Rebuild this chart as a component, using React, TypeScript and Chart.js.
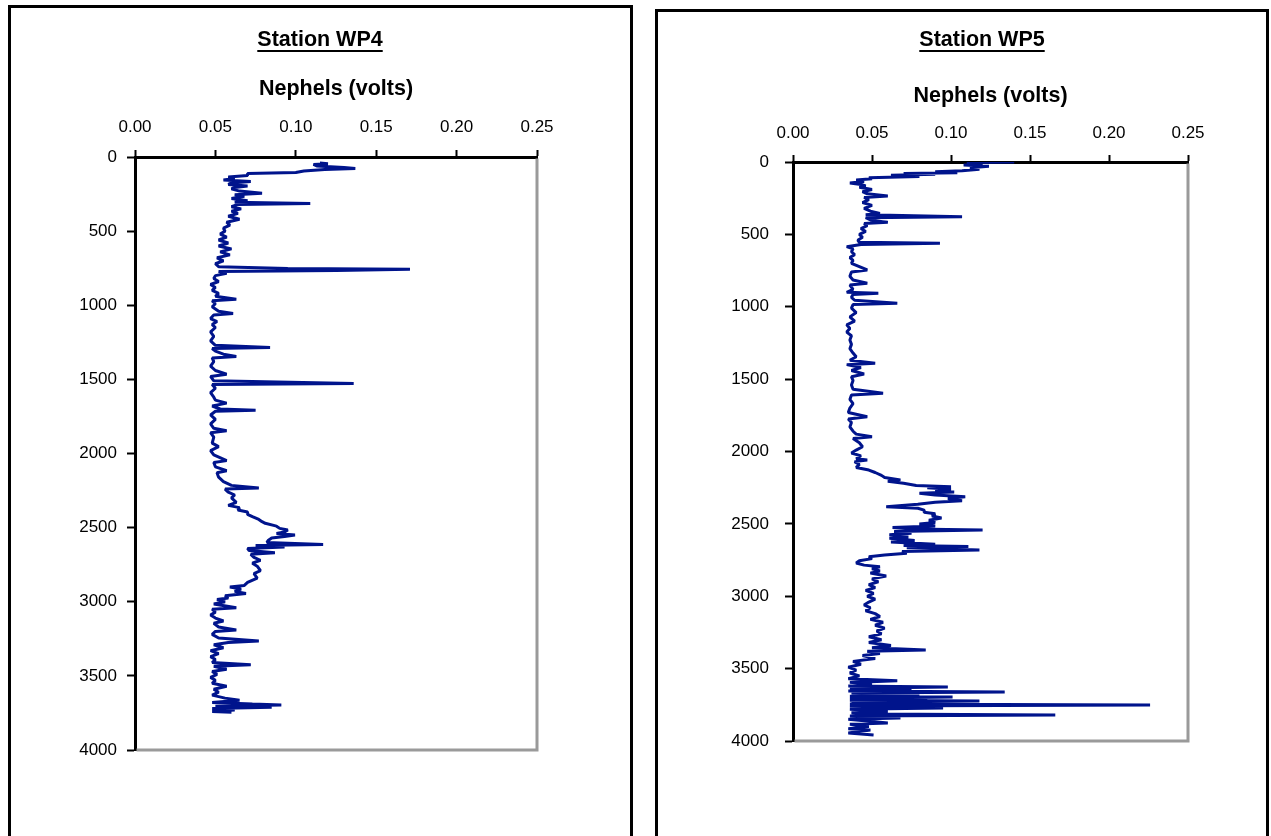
import React, { useEffect, useRef } from "react";
import { Chart, registerables } from "chart.js";

Chart.register(...registerables);

// ---------- data ----------
const wp4Depth = [
  40, 45, 50, 60, 70, 78, 85, 95, 105, 112, 125, 135, 145, 155, 165, 175, 185, 195, 205, 215,
  230, 245, 255, 265, 280, 295, 305, 313, 320, 335, 350, 365, 380, 400, 420, 440, 460, 480, 500, 520,
  540, 560, 580, 600, 620, 640, 660, 680, 700, 720, 740, 752, 758, 765, 772, 785, 800, 820, 840, 860,
  880, 900, 920, 940, 960, 970, 990, 1010, 1040, 1055, 1065, 1090, 1110, 1130, 1150, 1180, 1210, 1240, 1270, 1285,
  1292, 1310, 1330, 1345, 1355, 1380, 1410, 1440, 1465, 1480, 1510, 1528, 1535, 1560, 1590, 1620, 1640, 1660, 1680, 1700,
  1708, 1715, 1740, 1770, 1800, 1830, 1846, 1860, 1890, 1930, 1954, 1980, 2010, 2048, 2060, 2090, 2116, 2130, 2160, 2190,
  2215, 2232, 2240, 2260, 2280, 2300, 2330, 2350, 2365, 2381, 2395, 2410, 2426, 2445, 2460, 2471, 2490, 2505, 2516, 2530,
  2540, 2550, 2560, 2570, 2585, 2600, 2613, 2620, 2630, 2640, 2655, 2670, 2680, 2700, 2720, 2740, 2760, 2790, 2810, 2840,
  2870, 2890, 2900, 2915, 2930, 2945, 2960, 2975, 2985, 3000, 3015, 3040, 3050, 3070, 3090, 3110, 3130, 3145, 3170, 3190,
  3200, 3220, 3245, 3265, 3275, 3290, 3310, 3330, 3350, 3370, 3390, 3410, 3425, 3435, 3455, 3470, 3490, 3510, 3530, 3550,
  3570, 3590, 3610, 3630, 3650, 3665, 3680, 3690, 3696, 3705, 3712, 3720, 3730, 3740, 3745,
];
const wp4Nephels = [
  0.115, 0.12, 0.111, 0.113, 0.13, 0.137, 0.118, 0.105, 0.1, 0.07, 0.07, 0.058, 0.062, 0.055, 0.072, 0.06, 0.058, 0.07, 0.062, 0.06,
  0.065, 0.079, 0.062, 0.068, 0.06, 0.07, 0.062, 0.109, 0.064, 0.06, 0.066, 0.06, 0.064, 0.058, 0.065, 0.057, 0.059, 0.055, 0.056, 0.053,
  0.057, 0.052, 0.058, 0.052, 0.06, 0.053, 0.059, 0.051, 0.055, 0.05, 0.052, 0.095, 0.171, 0.125, 0.052, 0.057, 0.05, 0.049, 0.052, 0.047,
  0.05, 0.048, 0.052, 0.05, 0.063, 0.048, 0.05, 0.048, 0.052, 0.061, 0.049, 0.047, 0.051, 0.048, 0.05, 0.047, 0.049, 0.047, 0.05, 0.084,
  0.048, 0.05, 0.055, 0.063, 0.048, 0.049, 0.047, 0.05, 0.057, 0.047, 0.049, 0.136, 0.048, 0.05, 0.047, 0.049, 0.05, 0.057, 0.048, 0.053,
  0.075, 0.05, 0.047, 0.05, 0.047, 0.049, 0.057, 0.047, 0.049, 0.048, 0.052, 0.047, 0.049, 0.057, 0.049, 0.05, 0.057, 0.051, 0.052, 0.055,
  0.06, 0.077, 0.056, 0.058, 0.062, 0.06, 0.063, 0.058, 0.065, 0.064, 0.07, 0.07, 0.073, 0.077, 0.079, 0.081, 0.088, 0.09, 0.095, 0.093,
  0.088, 0.0995, 0.093, 0.085, 0.083, 0.082, 0.117, 0.075, 0.093, 0.07, 0.071, 0.087, 0.072, 0.074, 0.078, 0.073, 0.076, 0.078, 0.074, 0.076,
  0.07, 0.068, 0.059, 0.066, 0.062, 0.069, 0.056, 0.058, 0.051, 0.056, 0.049, 0.063, 0.048, 0.05, 0.047, 0.05, 0.055, 0.049, 0.052, 0.063,
  0.05, 0.048, 0.052, 0.077, 0.058, 0.049, 0.055, 0.047, 0.052, 0.047, 0.05, 0.048, 0.072, 0.049, 0.057, 0.048, 0.051, 0.047, 0.05, 0.048,
  0.057, 0.049, 0.052, 0.048, 0.056, 0.065, 0.048, 0.073, 0.091, 0.05, 0.085, 0.048, 0.062, 0.048, 0.06,
];

const wp5Depth = [
  0, 3, 10, 20, 30, 40, 50, 60, 67, 75, 80, 85, 92, 100, 108, 115, 125, 135, 145, 155,
  165, 175, 190, 205, 220, 235, 245, 260, 280, 300, 320, 340, 355, 365, 378, 385, 400, 417, 425, 440,
  460, 480, 500, 520, 540, 555, 562, 570, 585, 600, 620, 640, 660, 680, 700, 746, 760, 790, 815, 838,
  850, 880, 900, 907, 915, 935, 955, 976, 985, 1010, 1040, 1070, 1100, 1125, 1150, 1175, 1200, 1230, 1260, 1290,
  1320, 1345, 1370, 1391, 1400, 1420, 1440, 1465, 1483, 1510, 1540, 1570, 1598, 1610, 1640, 1670, 1700, 1730, 1760, 1775,
  1800, 1830, 1860, 1880, 1898, 1910, 1940, 1967, 1990, 2010, 2030, 2050, 2059, 2070, 2090, 2110, 2128, 2145, 2165, 2180,
  2196, 2205, 2220, 2235, 2243, 2250, 2260, 2270, 2280, 2289, 2300, 2312, 2325, 2340, 2350, 2365, 2381, 2392, 2405, 2420,
  2430, 2445, 2460, 2475, 2490, 2500, 2515, 2525, 2535, 2542, 2552, 2565, 2575, 2590, 2600, 2615, 2625, 2640, 2650, 2657,
  2665, 2680, 2690, 2703, 2715, 2727, 2740, 2755, 2770, 2785, 2796, 2810, 2825, 2840, 2860, 2880, 2900, 2920, 2940, 2960,
  2980, 3000, 3020, 3040, 3060, 3080, 3100, 3120, 3140, 3160, 3180, 3200, 3220, 3240, 3260, 3280, 3300, 3320, 3340, 3355,
  3371, 3380, 3395, 3410, 3430, 3450, 3470, 3490, 3510, 3530, 3550, 3570, 3583, 3595, 3610, 3620, 3627, 3635, 3645, 3655,
  3661, 3668, 3680, 3690, 3696, 3705, 3712, 3718, 3724, 3732, 3740, 3745, 3751, 3758, 3765, 3772, 3780, 3795, 3805, 3813,
  3820, 3828, 3841, 3850, 3876, 3885, 3900, 3915, 3924, 3945, 3959,
];
const wp5Nephels = [
  0.14, 0.11, 0.12, 0.108, 0.124, 0.112, 0.118, 0.107, 0.09, 0.104, 0.07, 0.09, 0.062, 0.08, 0.048, 0.05, 0.04, 0.045, 0.036, 0.043,
  0.046, 0.042, 0.05, 0.044, 0.047, 0.06, 0.045, 0.048, 0.044, 0.05, 0.045, 0.049, 0.055, 0.046, 0.107, 0.046, 0.049, 0.06, 0.045, 0.047,
  0.043, 0.046, 0.042, 0.044, 0.041, 0.042, 0.093, 0.043, 0.034, 0.038, 0.037, 0.039, 0.036, 0.038, 0.037, 0.047, 0.037, 0.036, 0.038, 0.047,
  0.036, 0.038, 0.034, 0.054, 0.038, 0.037, 0.039, 0.066, 0.038, 0.037, 0.04, 0.036, 0.039, 0.034, 0.036, 0.034, 0.037, 0.036, 0.037, 0.036,
  0.038, 0.04, 0.036, 0.052, 0.034, 0.043, 0.037, 0.045, 0.037, 0.038, 0.037, 0.038, 0.057, 0.037, 0.036, 0.038, 0.036, 0.035, 0.047, 0.035,
  0.037, 0.036, 0.038, 0.04, 0.05, 0.038, 0.042, 0.044, 0.04, 0.037, 0.043, 0.04, 0.047, 0.039, 0.042, 0.04, 0.048, 0.052, 0.056, 0.058,
  0.068, 0.06, 0.07, 0.078, 0.1, 0.085, 0.1, 0.09, 0.102, 0.08, 0.09, 0.109, 0.098, 0.107, 0.09, 0.079, 0.059, 0.079, 0.083, 0.083,
  0.09, 0.088, 0.094, 0.086, 0.09, 0.08, 0.09, 0.063, 0.075, 0.12, 0.064, 0.075, 0.061, 0.073, 0.061, 0.077, 0.062, 0.09, 0.07, 0.111,
  0.072, 0.118, 0.069, 0.072, 0.058, 0.048, 0.05, 0.042, 0.04, 0.045, 0.055, 0.05, 0.055, 0.049, 0.059, 0.05, 0.054, 0.048, 0.052, 0.046,
  0.051, 0.047, 0.052, 0.048, 0.045, 0.049, 0.046, 0.052, 0.055, 0.049, 0.057, 0.052, 0.058, 0.053, 0.056, 0.048, 0.056, 0.048, 0.062, 0.05,
  0.084, 0.047, 0.055, 0.044, 0.052, 0.038, 0.043, 0.035, 0.04, 0.036, 0.042, 0.035, 0.066, 0.036, 0.05, 0.035, 0.098, 0.036, 0.075, 0.035,
  0.134, 0.037, 0.08, 0.036, 0.101, 0.036, 0.085, 0.036, 0.118, 0.037, 0.07, 0.036, 0.226, 0.036, 0.07, 0.095, 0.036, 0.06, 0.037, 0.05,
  0.166, 0.036, 0.068, 0.035, 0.06, 0.036, 0.048, 0.035, 0.049, 0.035, 0.051,
];

const nephelTicks = [0, 0.05, 0.1, 0.15, 0.2, 0.25];
const depthTicks = [0, 500, 1000, 1500, 2000, 2500, 3000, 3500, 4000];

const FONT = "'Liberation Sans', Arial, Helvetica, sans-serif";
const LINE_COLOR = "#00148c";

type PanelProps = {
  title: string;
  depth: number[];
  values: number[];
  left: number;
  top: number;
  width: number;
  height: number;
  area: { left: number; top: number; right: number; bottom: number };
  titleX: number;
  titleY: number;
  axisTitlePad: number;
  xTickPad: number;
  yTickPad: number;
};

function DepthPanel(p: PanelProps) {
  const ref = useRef<HTMLCanvasElement | null>(null);
  useEffect(() => {
    if (!ref.current) return;
    const decor = {
      id: "decor",
      beforeDatasetsDraw(chart: any) {
        const { ctx, chartArea: a } = chart;
        ctx.save();
        ctx.strokeStyle = "#9a9a9a";
        ctx.lineWidth = 3;
        ctx.beginPath();
        ctx.moveTo(a.right, a.top + 1.5);
        ctx.lineTo(a.right, a.bottom);
        ctx.lineTo(a.left + 1.5, a.bottom);
        ctx.stroke();
        ctx.restore();
      },
      afterDraw(chart: any) {
        const { ctx } = chart;
        ctx.save();
        ctx.font = `bold 21.5px ${FONT}`;
        ctx.fillStyle = "#000";
        ctx.textAlign = "center";
        ctx.textBaseline = "middle";
        ctx.fillText(p.title, p.titleX, p.titleY);
        const w = ctx.measureText(p.title).width;
        ctx.fillRect(p.titleX - w / 2, p.titleY + 10, w, 2);
        ctx.restore();
      },
    };
    const data = p.depth.map((d, i) => ({ x: p.values[i], y: d }));
    const chart = new Chart(ref.current, {
      type: "scatter",
      data: {
        datasets: [
          {
            data,
            showLine: true,
            borderColor: LINE_COLOR,
            backgroundColor: LINE_COLOR,
            borderWidth: 3,
            borderJoinStyle: "bevel",
            borderCapStyle: "butt",
            pointRadius: 0,
            tension: 0,
          },
        ],
      },
      options: {
        animation: false,
        responsive: false,
        maintainAspectRatio: false,
        events: [],
        layout: {
          padding: {
            left: 0,
            top: 0,
            right: p.width - p.area.right,
            bottom: p.height - p.area.bottom,
          },
        },
        plugins: {
          legend: { display: false },
          tooltip: { enabled: false },
          title: { display: false },
        },
        scales: {
          x: {
            type: "linear",
            position: "top",
            min: 0,
            max: 0.25,
            afterBuildTicks: (s: any) => {
              s.ticks = nephelTicks.map((v) => ({ value: v }));
            },
            afterFit: (s: any) => {
              s.height = p.area.top;
            },
            ticks: {
              autoSkip: false,
              maxRotation: 0,
              padding: p.xTickPad,
              color: "#000",
              font: { family: FONT, size: 17 },
              callback: (v: any) => Number(v).toFixed(2),
            },
            grid: {
              drawOnChartArea: false,
              drawTicks: true,
              tickLength: 7,
              tickWidth: 2,
              tickColor: "#000",
            },
            border: { display: true, color: "#000", width: 3 },
            title: {
              display: true,
              text: "Nephels (volts)",
              color: "#000",
              font: { family: FONT, size: 21.5, weight: "bold" },
              padding: { top: p.axisTitlePad, bottom: 0 },
            },
          },
          y: {
            type: "linear",
            position: "left",
            reverse: true,
            min: 0,
            max: 4000,
            afterBuildTicks: (s: any) => {
              s.ticks = depthTicks.map((v) => ({ value: v }));
            },
            afterFit: (s: any) => {
              s.width = p.area.left;
            },
            ticks: {
              autoSkip: false,
              padding: p.yTickPad,
              color: "#000",
              font: { family: FONT, size: 17 },
              callback: (v: any) => String(v),
            },
            grid: {
              drawOnChartArea: false,
              drawTicks: true,
              tickLength: 8,
              tickWidth: 2,
              tickColor: "#000",
            },
            border: { display: true, color: "#000", width: 3 },
          },
        },
      } as any,
      plugins: [decor],
    });
    return () => chart.destroy();
  }, []);
  return (
    <canvas
      ref={ref}
      width={p.width}
      height={p.height}
      style={{
        position: "absolute",
        left: p.left,
        top: p.top,
        width: p.width,
        height: p.height,
      }}
    />
  );
}

export default function App() {
  return (
    <div
      style={{
        position: "fixed",
        left: 0,
        top: 0,
        width: 1271,
        height: 836,
        overflow: "hidden",
        background: "#fff",
      }}
    >
      <div
        style={{
          position: "absolute",
          left: 8,
          top: 5,
          width: 625,
          height: 900,
          border: "3px solid #000",
          boxSizing: "border-box",
        }}
      />
      <div
        style={{
          position: "absolute",
          left: 655,
          top: 9,
          width: 614,
          height: 900,
          border: "3px solid #000",
          boxSizing: "border-box",
        }}
      />
      <DepthPanel
        title="Station WP4"
        depth={wp4Depth}
        values={wp4Nephels}
        left={12}
        top={9}
        width={615}
        height={827}
        area={{ left: 123, top: 148, right: 525, bottom: 741 }}
        titleX={308}
        titleY={31}
        axisTitlePad={67}
        xTickPad={12}
        yTickPad={10}
      />
      <DepthPanel
        title="Station WP5"
        depth={wp5Depth}
        values={wp5Nephels}
        left={659}
        top={12}
        width={606}
        height={824}
        area={{ left: 134, top: 150, right: 529, bottom: 729 }}
        titleX={323}
        titleY={28}
        axisTitlePad={71}
        xTickPad={11}
        yTickPad={16}
      />
    </div>
  );
}
